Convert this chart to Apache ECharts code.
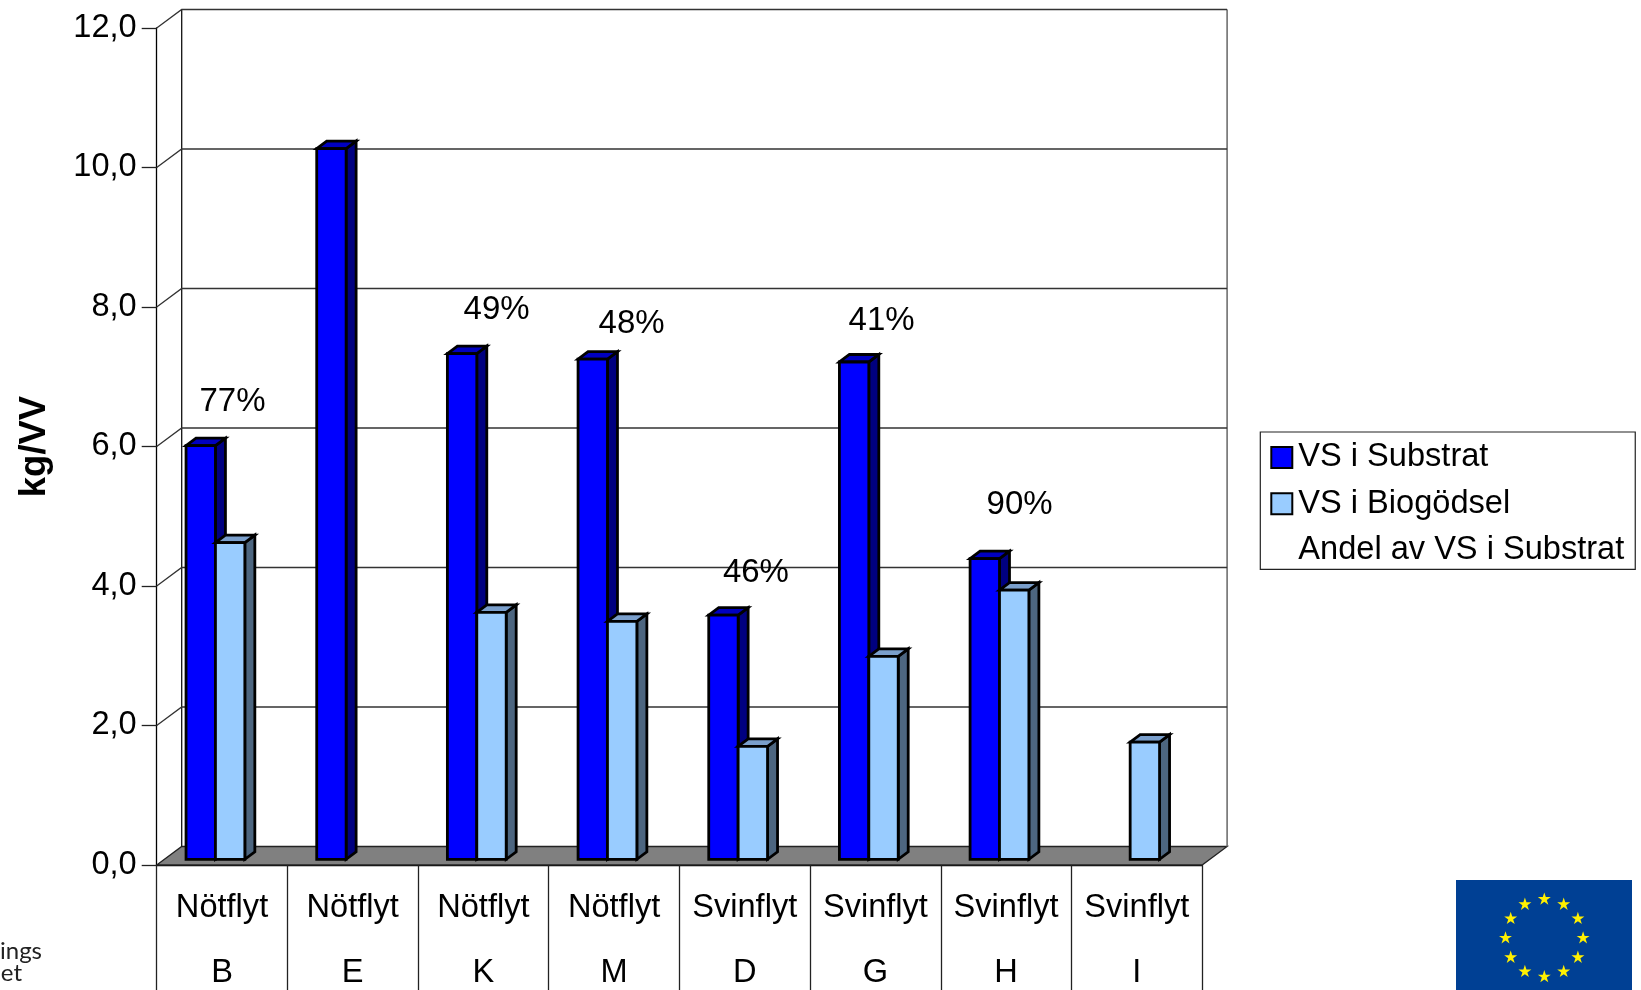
<!DOCTYPE html>
<html><head><meta charset="utf-8">
<style>html,body{margin:0;padding:0;background:#fff;overflow:hidden}#c{width:1641px;height:990px}</style>
<script src="https://cdn.jsdelivr.net/npm/echarts@6/dist/echarts.min.js"></script>
</head><body><div id="c"></div>
<script>
const substrates = ['Nötflyt','Nötflyt','Nötflyt','Nötflyt','Svinflyt','Svinflyt','Svinflyt','Svinflyt'];
const plants = ['B','E','K','M','D','G','H','I'];
const vsSubstrat = [5.93,10.19,7.25,7.17,3.50,7.13,4.31,null];
const vsBiogodsel = [4.54,null,3.54,3.41,1.62,2.91,3.86,1.68];
const andelText = ['77%',null,'49%','48%','46%','41%','90%',null];
const andelLevel = [6.68,null,8.0,7.79,4.22,7.84,5.2,null];
const yTicks = [0,2,4,6,8,10,12];

const FONT = '"Liberation Sans", Arial, sans-serif';
const DX = 25, DY = 18.5, BDX = 10, BDY = 7.5, BW = 29.4, BLIFT = 5.7, BSTART = -36;
const labelNudge = [10.5,0,13.2,17.5,11.2,6.2,13.5,0];

function frameItem(params, api) {
  const v = api.value(1), cs = params.coordSys, pt = api.coord([0, v]);
  const x0 = cs.x, x1 = cs.x + cs.width, y = pt[1];
  const lw = {stroke:'#333', lineWidth:1.3, fill:null};
  const kids = [];
  if (v === 0) {
    kids.push({type:'polygon', shape:{points:[[x0,y],[x0+DX,y-DY],[x1+DX,y-DY],[x1,y]]},
      style:{fill:'#808080', stroke:'#222', lineWidth:1.3}});
    kids.push({type:'line', shape:{x1:x0+DX,y1:y-DY,x2:x0+DX,y2:cs.y-DY}, style:{stroke:'#111',lineWidth:1.3}});
    kids.push({type:'line', shape:{x1:x1+DX,y1:y-DY,x2:x1+DX,y2:cs.y-DY}, style:{stroke:'#666',lineWidth:1.5}});
  } else {
    kids.push({type:'polyline', shape:{points:[[x0,y],[x0+DX,y-DY],[x1+DX,y-DY]]}, style:lw});
  }
  return {type:'group', children:kids};
}
function barRender(slot, front, top, side) {
  return function (params, api) {
    const cat = api.value(0), val = api.value(1);
    if (val == null || isNaN(val)) return null;
    const c = api.coord([cat, val]), base = api.coord([cat, 0]);
    const x = c[0] + BSTART + slot * BW, yt = c[1] - BLIFT, yb = base[1] - BLIFT, w = BW;
    const st = {stroke:'#000', lineWidth:2.8, lineJoin:'miter'};
    return {type:'group', children:[
      {type:'polygon', shape:{points:[[x+w,yt],[x+w+BDX,yt-BDY],[x+w+BDX,yb-BDY],[x+w,yb]]}, style:{fill:side,...st}},
      {type:'polygon', shape:{points:[[x,yt],[x+BDX,yt-BDY],[x+w+BDX,yt-BDY],[x+w,yt]]}, style:{fill:top,...st}},
      {type:'rect', shape:{x:x,y:yt,width:w,height:yb-yt}, style:{fill:front,...st}}
    ]};
  };
}
function andelItem(params, api) {
  const i = params.dataIndex, v = api.value(1);
  if (v == null || isNaN(v)) return null;
  const p = api.coord([api.value(0), v]);
  return {type:'text', style:{x:p[0]+labelNudge[i], y:p[1]+2.5, text:andelText[i], fill:'#000',
    font:'33px '+FONT, align:'center', verticalAlign:'middle'}};
}
const toPairs = a => a.map((v,i)=>[i,v]);

function starPoints(cx, cy, R) {
  const pts = [];
  for (let k=0;k<10;k++){
    const r = k%2 ? R*0.382 : R, a = -Math.PI/2 + k*Math.PI/5;
    pts.push([cx+r*Math.cos(a), cy+r*Math.sin(a)]);
  }
  return pts;
}
const stars = [];
for (let i=0;i<12;i++){
  const a = i*Math.PI/6;
  stars.push({type:'polygon', shape:{points:starPoints(1544.3+38.8*Math.cos(a), 938+38.8*Math.sin(a), 6.8)}, style:{fill:'#fff000'}});
}

const chart = echarts.init(document.getElementById('c'), null, {renderer:'canvas', width:1641, height:990});
chart.setOption({
  animation:false,
  backgroundColor:'#fff',
  textStyle:{fontFamily:FONT},
  grid:{left:156.7, top:28, width:1045.4, height:837, outerBoundsMode:'none', containLabel:false},
  legend:{
    orient:'vertical', left:1260.3, top:432, padding:[9,11,3,10], itemGap:13.2, itemWidth:21, itemHeight:21,
    backgroundColor:'#fff', borderColor:'#222', borderWidth:1.2, borderRadius:0, selectedMode:false, align:'left',
    textStyle:{fontFamily:FONT, fontSize:32.6, color:'#000', padding:[0,0,0,1]},
    data:[
      {name:'VS i Substrat', icon:'rect', itemStyle:{color:'#0000ff', borderColor:'#000', borderWidth:2}},
      {name:'VS i Biogödsel', icon:'rect', itemStyle:{color:'#99ccff', borderColor:'#000', borderWidth:2}},
      {name:'Andel av VS i Substrat', icon:'rect', itemStyle:{color:'rgba(0,0,0,0)', borderColor:'rgba(0,0,0,0)', borderWidth:0}}
    ]
  },
  xAxis:{
    type:'category', data:substrates.map((s,i)=>s+'\n'+plants[i]),
    axisLine:{lineStyle:{color:'#000',width:1.3}},
    axisTick:{show:true, length:125, alignWithLabel:false, lineStyle:{color:'#222',width:1.3}},
    axisLabel:{interval:0, margin:10.5, fontSize:32.6, lineHeight:65, color:'#000', fontFamily:FONT, verticalAlign:'top'},
    splitLine:{show:false}
  },
  yAxis:{
    type:'value', min:0, max:12, interval:2,
    name:'kg/VV', nameLocation:'middle', nameGap:103, nameRotate:90,
    nameTextStyle:{fontFamily:FONT, fontSize:36.5, fontWeight:'bold', color:'#000'},
    axisLine:{show:true, lineStyle:{color:'#000',width:1.3}},
    axisTick:{show:true, length:15, lineStyle:{color:'#222',width:1.3}},
    axisLabel:{margin:20, fontSize:32.6, color:'#000', fontFamily:FONT, padding:[6,0,0,0], formatter:v=>v.toFixed(1).replace('.',',')},
    splitLine:{show:false}
  },
  series:[
    {name:'Vägg', type:'custom', renderItem:frameItem, clip:false, silent:true, z:1, data:yTicks.map(v=>[0,v]), encode:{x:0,y:1}},
    {name:'VS i Substrat', type:'custom', renderItem:barRender(0,'#0000ff','#0000c0','#000080'), clip:false, z:2, itemStyle:{color:'#0000ff'}, data:toPairs(vsSubstrat), encode:{x:0,y:1}},
    {name:'VS i Biogödsel', type:'custom', renderItem:barRender(1,'#99ccff','#7a9fcc','#4d6680'), clip:false, z:3, itemStyle:{color:'#99ccff'}, data:toPairs(vsBiogodsel), encode:{x:0,y:1}},
    {name:'Andel av VS i Substrat', type:'custom', renderItem:andelItem, clip:false, z:4, itemStyle:{color:'rgba(0,0,0,0)'}, data:toPairs(andelLevel), encode:{x:0,y:1}}
  ],
  graphic:[
    {type:'group', silent:true, children:[
      {type:'rect', shape:{x:1456,y:880,width:176,height:110}, style:{fill:'#004094'}},
      ...stars
    ]},
    {type:'text', style:{x:42, y:951, text:'nings', align:'right', verticalAlign:'middle', font:'24px Lato', fill:'#222'}},
    {type:'text', style:{x:22, y:973, text:'bet', align:'right', verticalAlign:'middle', font:'24px Lato', fill:'#222'}}
  ]
});
</script></body></html>
